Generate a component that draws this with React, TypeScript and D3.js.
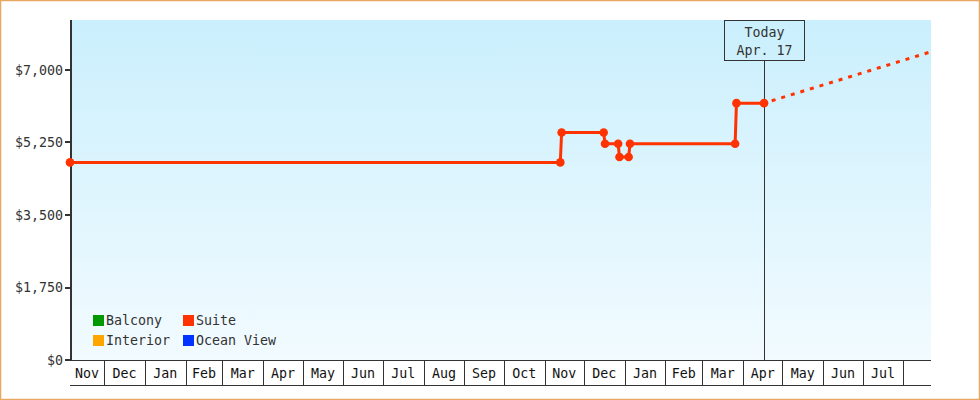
import React from "react";
import * as d3 from "d3";

const suiteDates = ["2013-11-05", "2014-11-13", "2014-11-14", "2014-12-16", "2014-12-17", "2014-12-27", "2014-12-28", "2015-01-04", "2015-01-05", "2015-03-26", "2015-03-27", "2015-04-17"];
const suitePrices = [4770, 4770, 5490, 5490, 5220, 5220, 4900, 4900, 5220, 5220, 6200, 6200];
const forecastDates = ["2015-04-17", "2015-08-22"];
const forecastPrices = [6200, 7440];
const yTicks = [0, 1750, 3500, 5250, 7000];
const legendNames = ["Balcony", "Interior", "Suite", "Ocean View"];
const legendColors = ["#009900", "#ffa500", "#ff3300", "#0033ff"];
const domainStart = "2013-11-05";
const domainEnd = "2015-08-22";
const todayDate = "2015-04-17";
const todayLabel = ["Today", "Apr. 17"];

const W = 980, H = 400;
const L = 70, R = 931, T = 20, B = 360;
const FONT = "'DejaVu Sans Mono', monospace";
const FS = 13.3;

export default function App() {
  const parse = d3.timeParse("%Y-%m-%d");
  const x = d3.scaleTime().domain([parse(domainStart)!, parse(domainEnd)!]).range([L, R]);
  const y = d3.scaleLinear().domain([0, (7000 * (B - T)) / 290]).range([B, T]);
  const fmt = d3.format("$,");

  const suite = suiteDates.map((d, i) => ({ x: x(parse(d)!), y: y(suitePrices[i]) }));
  const fc = forecastDates.map((d, i) => ({ x: x(parse(d)!), y: y(forecastPrices[i]) }));
  const line = d3.line<{ x: number; y: number }>().x((d) => d.x).y((d) => d.y);

  const [d0, d1] = x.domain();
  const bounds = [d0, ...d3.timeMonth.range(d3.timeDay.offset(d0, 1), d1), d1];
  const cells = bounds.slice(0, -1).map((b, i) => ({
    x0: x(b),
    x1: x(bounds[i + 1]),
    label: d3.timeFormat("%b")(b),
  }));
  const tx = Math.round(x(parse(todayDate)!)) + 0.5;

  return (
    <svg width={W} height={H} style={{ position: "absolute", left: 0, top: 0 }} fontFamily={FONT}>
      <defs>
        <linearGradient id="bg" x1="0" y1="0" x2="0" y2="1">
          <stop offset="0" stopColor="#caeffd" />
          <stop offset="1" stopColor="#f2fbff" />
        </linearGradient>
      </defs>
      <rect x={0} y={0} width={W} height={H} fill="#fff" />
      <rect x={0.5} y={0.5} width={W - 1} height={H - 1} fill="none" stroke="#e9a861" strokeWidth={1.5} />
      <rect x={L} y={T} width={R - L} height={B - T} fill="url(#bg)" />

      {/* y axis */}
      <line x1={L + 1} x2={L + 1} y1={T} y2={B} stroke="#333" strokeWidth={2} />
      {yTicks.map((t) => (
        <g key={t}>
          <line x1={L - 5} x2={L} y1={Math.round(y(t))} y2={Math.round(y(t))} stroke="#333" strokeWidth={2} />
          <text x={L - 7} y={y(t) + 4.5} textAnchor="end" fontSize={FS} fill="#333">
            {fmt(t)}
          </text>
        </g>
      ))}

      {/* x axis cells */}
      <line x1={L} x2={R} y1={B + 0.5} y2={B + 0.5} stroke="#333" strokeWidth={1} />
      <line x1={L} x2={R} y1={385.5} y2={385.5} stroke="#333" strokeWidth={1} />
      {cells.map((c, i) => (
        <g key={i}>
          {i > 0 && (
            <line x1={Math.round(c.x0) + 0.5} x2={Math.round(c.x0) + 0.5} y1={B} y2={385} stroke="#333" strokeWidth={1} />
          )}
          {c.x1 - c.x0 >= 30 && (
            <text x={(c.x0 + c.x1) / 2} y={378} textAnchor="middle" fontSize={FS} fill="#111">
              {c.label}
            </text>
          )}
        </g>
      ))}

      {/* today marker */}
      <line x1={tx} x2={tx} y1={60} y2={B} stroke="#333" strokeWidth={1} />
      <rect x={724.5} y={20.5} width={80} height={40} fill="none" stroke="#333" strokeWidth={1} />
      <text x={tx} y={37} textAnchor="middle" fontSize={FS} fill="#333">{todayLabel[0]}</text>
      <text x={tx} y={55} textAnchor="middle" fontSize={FS} fill="#333">{todayLabel[1]}</text>

      {/* series */}
      <path d={line(fc)!} fill="none" stroke="#ff3300" strokeWidth={3} strokeDasharray="4,6" strokeDashoffset={-8} />
      <path d={line(suite)!} fill="none" stroke="#ff3300" strokeWidth={3} strokeLinejoin="round" />
      {suite.map((p, i) => (
        <circle key={i} cx={p.x} cy={p.y} r={4.3} fill="#ff3300" />
      ))}

      {/* legend */}
      {legendNames.map((n, i) => {
        const col = Math.floor(i / 2), row = i % 2;
        const lx = 93 + col * 90, ly = 315 + row * 20;
        return (
          <g key={n}>
            <rect x={lx} y={ly} width={11} height={11} fill={legendColors[i]} />
            <text x={lx + 13} y={ly + 10} fontSize={FS} fill="#333">{n}</text>
          </g>
        );
      })}
    </svg>
  );
}
